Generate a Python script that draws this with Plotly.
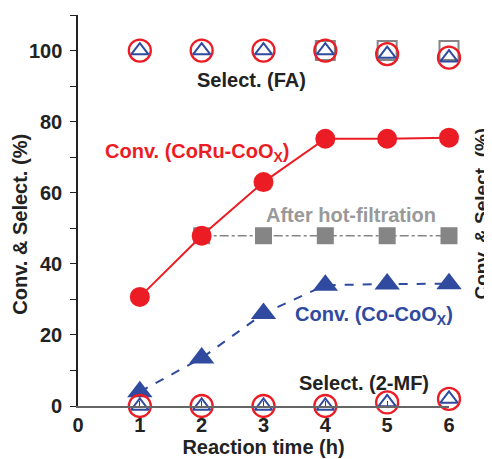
import plotly.graph_objects as go

time_h = [1, 2, 3, 4, 5, 6]
conv_coru = [30.7, 47.9, 63.0, 75.2, 75.2, 75.5]
conv_co = [4.0, 13.5, 26.0, 34.0, 34.3, 34.4]
hot_time = [2, 3, 4, 5, 6]
hot_conv = [47.9, 47.9, 47.9, 47.9, 47.9]
sel_fa_coru = [100, 100, 100, 100, 99, 98]
sel_fa_co = [100, 100, 100, 100, 99, 98]
sel_fa_hot_time = [4, 5, 6]
sel_fa_hot = [100, 100, 100]
sel_mf_coru = [0, 0, 0, 0, 1, 2]
sel_mf_co = [0, 0, 0, 0, 1, 2]
x_ticks = [0, 1, 2, 3, 4, 5, 6]
y_ticks = [0, 20, 40, 60, 80, 100]
y_minor = [10, 30, 50, 70, 90, 110]

RED = "#ec1c24"
BLUE = "#2f4a9e"
GRAY = "#858585"
FONT = "Liberation Sans"
FS = 20

fig = go.Figure()

fig.add_trace(go.Scatter(x=hot_time, y=hot_conv, mode="lines+markers",
                         line=dict(color=GRAY, width=1.3, dash="dashdot"),
                         marker=dict(symbol="square", size=17, color=GRAY),
                         cliponaxis=False))
fig.add_trace(go.Scatter(x=time_h, y=conv_coru, mode="lines+markers",
                         line=dict(color=RED, width=2),
                         marker=dict(symbol="circle", size=20, color=RED),
                         cliponaxis=False))
fig.add_trace(go.Scatter(x=time_h, y=conv_co, mode="lines+markers",
                         line=dict(color=BLUE, width=2, dash="dash"),
                         marker=dict(symbol="triangle-up", size=22, color=BLUE),
                         cliponaxis=False))

# selectivity markers
fig.add_trace(go.Scatter(x=sel_fa_hot_time, y=sel_fa_hot, mode="markers",
                         marker=dict(symbol="square-open", size=19, color=GRAY, line=dict(width=2)),
                         cliponaxis=False))
for ys in (sel_fa_coru, sel_mf_coru):
    fig.add_trace(go.Scatter(x=time_h, y=ys, mode="markers",
                             marker=dict(symbol="circle-open", size=22, color=RED, line=dict(width=2.3)),
                             cliponaxis=False))
for ys in (sel_fa_co, sel_mf_co):
    fig.add_trace(go.Scatter(x=time_h, y=ys, mode="markers",
                             marker=dict(symbol="triangle-up-open", size=15, color=BLUE, line=dict(width=2)),
                             cliponaxis=False))

anns = [
    dict(x=2.80, y=91.8, text="Select. (FA)", color="#222222"),
    dict(x=1.93, y=71.2, text="Conv. (CoRu-CoO<sub>X</sub>)", color=RED),
    dict(x=4.42, y=53.8, text="After hot-filtration", color="#999999"),
    dict(x=4.78, y=25.6, text="Conv. (Co-CoO<sub>X</sub>)", color=BLUE),
    dict(x=4.63, y=6.4, text="Select. (2-MF)", color="#222222"),
]
for a in anns:
    fig.add_annotation(x=a["x"], y=a["y"], text="<b>%s</b>" % a["text"], showarrow=False,
                       font=dict(family=FONT, size=FS, color=a["color"]))

# y tick labels (placed a little further from the axis, as in the reference)
for v in y_ticks:
    fig.add_annotation(xref="paper", yref="y", x=-0.038, xanchor="right", y=v, yanchor="middle",
                       text="<b>%d</b>" % v, showarrow=False,
                       font=dict(family=FONT, size=FS, color="#222222"))

# left and right axis titles
fig.add_annotation(xref="paper", yref="paper", x=-0.155, xanchor="center", y=0.465,
                   text="<b>Conv. & Select. (%)</b>",
                   textangle=-90, showarrow=False,
                   font=dict(family=FONT, size=FS, color="#222222"))
fig.add_annotation(xref="paper", yref="paper", x=1.085, xanchor="center", y=0.491,
                   text="<b>Conv. & Select. (%)</b>",
                   textangle=-90, showarrow=False,
                   font=dict(family=FONT, size=19, color="#222222"))

fig.update_layout(
    width=484, height=451,
    margin=dict(l=70, r=43, t=7, b=53),
    paper_bgcolor="white", plot_bgcolor="white",
    showlegend=False,
    font=dict(family=FONT, size=FS, color="#222222"),
)
fig.update_xaxes(range=[0, 6], tickvals=x_ticks,
                 ticktext=["<b>%d</b>" % v for v in x_ticks],
                 showgrid=False, zeroline=False, showline=True, linecolor="#666666", linewidth=2,
                 ticks="inside", ticklen=5, tickcolor="#444444",
                 title=dict(text="<b>Reaction time (h)</b>", standoff=0, font=dict(size=FS)),
                 tickfont=dict(size=FS))
fig.update_yaxes(range=[0, 110], tickvals=y_ticks, showticklabels=False,
                 minor=dict(tickvals=y_minor, ticks="outside", ticklen=6, tickcolor="#222222"),
                 showgrid=False, zeroline=False, showline=True, linecolor="#222222", linewidth=2,
                 ticks="outside", ticklen=6, tickcolor="#222222")

fig.write_html("out.html")
